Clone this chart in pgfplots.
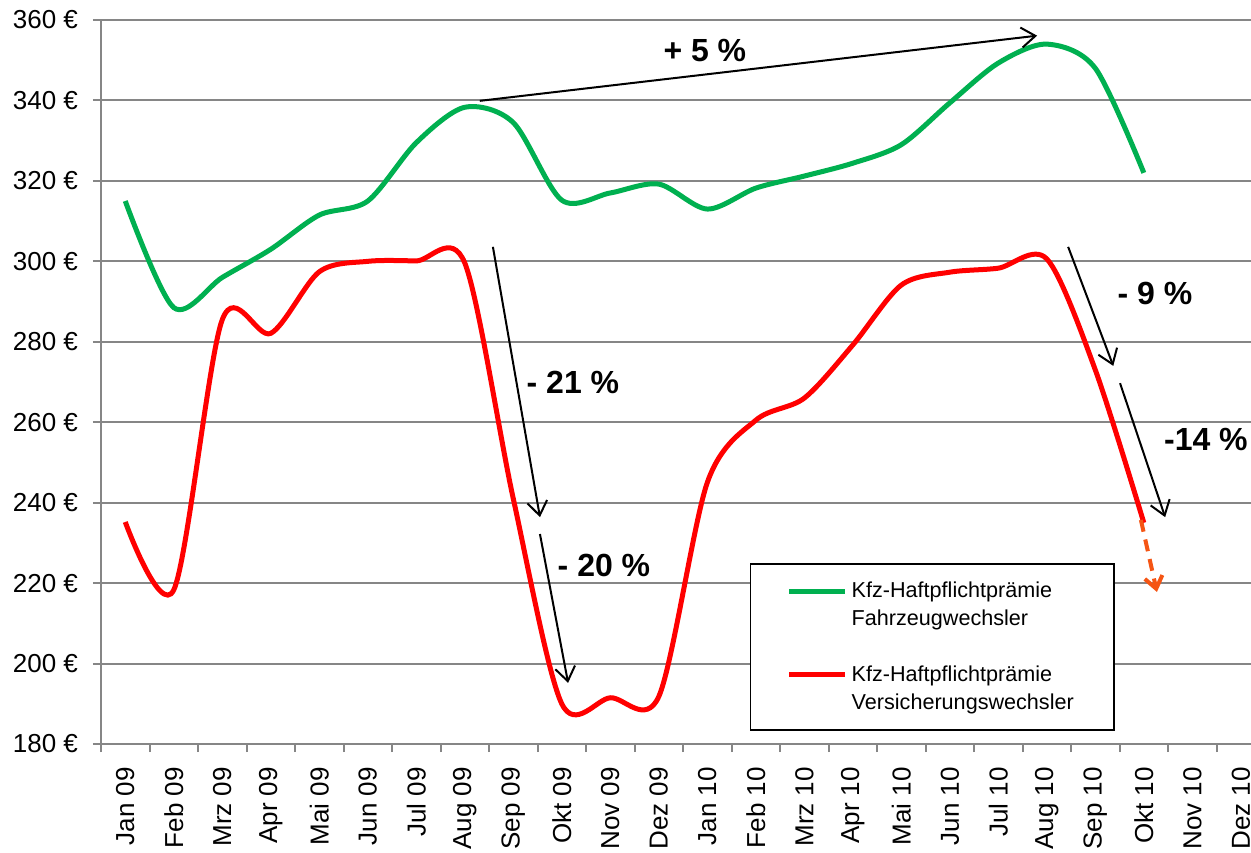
\documentclass[border=0pt]{standalone}
\usepackage{fontspec}
\setmainfont{Liberation Sans}
\usepackage{pgfplots}
\pgfplotsset{compat=1.18}
\usetikzlibrary{arrows.meta}
\definecolor{cgreen}{RGB}{0,176,80}
\definecolor{cred}{RGB}{255,0,0}
\definecolor{corange}{RGB}{245,85,20}
\definecolor{cgrid}{RGB}{134,134,134}
\begin{document}
\begin{tikzpicture}
\begin{axis}[
  name=ax,
  scale only axis,
  width=575pt, height=362pt,
  xmin=-0.5, xmax=23.21,
  ymin=180, ymax=360,
  clip=false,
  axis x line*=bottom, axis y line*=left,
  axis line style={cgrid, line width=1pt},
  ymajorgrids,
  grid style={cgrid, line width=1pt},
  tick align=outside,
  major tick length=4pt,
  tick style={cgrid, line width=1pt},
  ytick={180,200,...,360},
  /pgf/number format/assume math mode=true,
  yticklabel={\pgfmathprintnumber{\tick}~€},
  yticklabel style={font=\fontsize{13}{15}\selectfont, xshift=-4pt},
  xtick={-0.5,0.5,...,22.5},
  xticklabels={},
  extra x ticks={0,...,23},
  extra x tick labels={Jan 09,Feb 09,Mrz 09,Apr 09,Mai 09,Jun 09,Jul 09,Aug 09,Sep 09,Okt 09,Nov 09,Dez 09,Jan 10,Feb 10,Mrz 10,Apr 10,Mai 10,Jun 10,Jul 10,Aug 10,Sep 10,Okt 10,Nov 10,Dez 10},
  extra x tick style={major tick length=0pt, xticklabel style={yshift=-8pt, rotate=90, anchor=east, font=\fontsize{13}{15}\selectfont}},
  legend image code/.code={\path[draw=none] (0pt,-7pt) -- (0pt,7pt); \draw[#1] (0pt,7pt) -- (28pt,7pt);},
  legend cell align=left,
  legend style={at={(0.5643,0.25)}, anchor=north west, draw=black, line width=0.75pt, fill=white,
    font=\fontsize{10.8}{14}\selectfont, cells={align=left}, row sep=14.5pt, inner xsep=18pt, inner ysep=7pt},
]
\addplot[cgreen, line width=2.5pt, smooth] coordinates {
(0,315) (1,288.5) (2,296) (3,303) (4,311.5) (5,315) (6,329.5) (7,338.3) (8,334.5) (9,315.2) (10,317) (11,319.2)
(12,313) (13,318.2) (14,321.2) (15,324.4) (16,329) (17,339.4) (18,349.3) (19,354) (20,348) (21,322)};
\addlegendentry{Kfz-Haftpflichtprämie\\Fahrzeugwechsler}
\addplot[cred, line width=2.5pt, smooth] coordinates {
(0,235.2) (1,218.3) (2,285.5) (3,282.1) (4,297.4) (5,300) (6,300.1) (7,299.6) (8,241) (9,190) (10,191.5) (11,191.8)
(12,245) (13,260.5) (14,266) (15,279.2) (16,294.1) (17,297.3) (18,298.3) (19,300.6) (20,273) (21,235)};
\addlegendentry{Kfz-Haftpflichtprämie\\Versicherungswechsler}
\draw[corange, line width=2pt, dash pattern=on 6pt off 4pt, -{Straight Barb[length=6pt,width=9pt]}] (axis cs:20.94,235.7) -- (axis cs:21.27,217.8);
\begin{scope}[black, line width=1pt, -{Straight Barb[length=7pt,width=10pt]}]
\draw (axis cs:7.31,339.9) -- (axis cs:18.80,356.1);
\draw (axis cs:7.58,303.6) -- (axis cs:8.55,236.4);
\draw (axis cs:8.55,232.2) -- (axis cs:9.13,195.2);
\draw (axis cs:19.44,303.6) -- (axis cs:20.37,274);
\draw (axis cs:20.51,269.7) -- (axis cs:21.44,236.4);
\end{scope}
\begin{scope}[font=\bfseries\fontsize{16}{18}\selectfont]
\node at (axis cs:11.95,352.5) {+ 5 \%};
\node at (axis cs:9.23,270) {- 21 \%};
\node at (axis cs:9.87,224.5) {- 20 \%};
\node at (axis cs:21.23,291.9) {- 9 \%};
\node at (axis cs:22.28,255.6) {-14 \%};
\end{scope}
\end{axis}
\pgfresetboundingbox
\path[use as bounding box] ([xshift=-50.5pt,yshift=-54pt]ax.south west) rectangle ([yshift=10pt]ax.north east);
\end{tikzpicture}
\end{document}
